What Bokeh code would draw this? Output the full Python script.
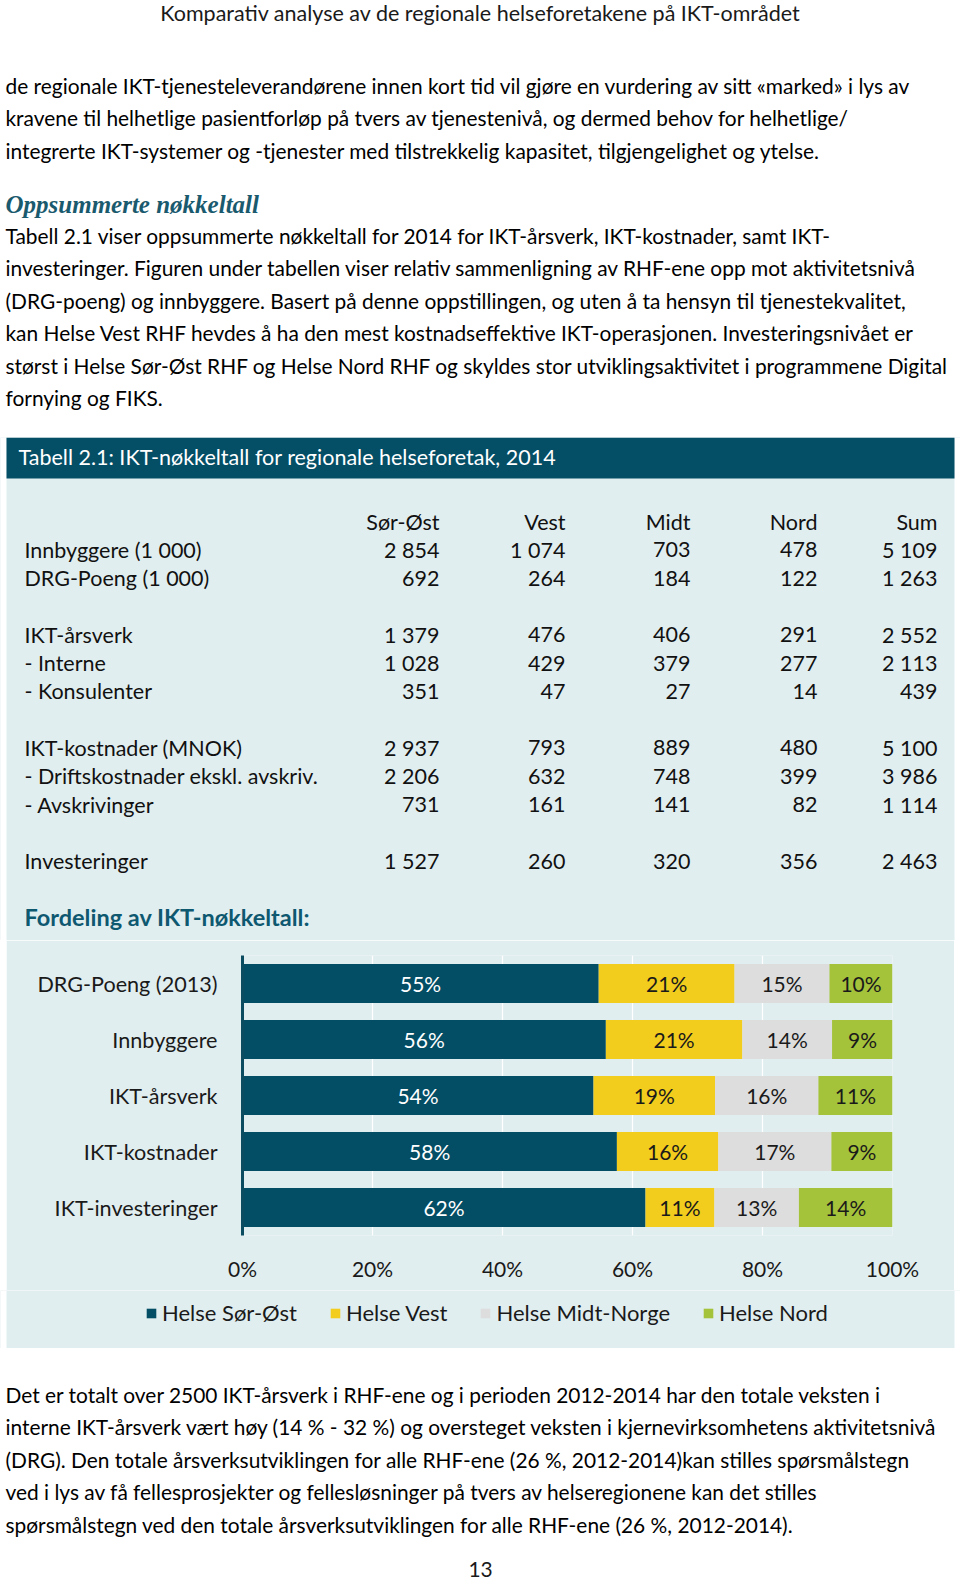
import numpy as np
from bokeh.plotting import figure
from bokeh.layouts import column, row
from bokeh.models import (Range1d, ColumnDataSource, FixedTicker, PrintfTickFormatter,
                          Legend, LegendItem, FactorRange, Spacer)
from bokeh.core.properties import value
from bokeh.embed import file_html
from bokeh.resources import INLINE

# ---------------- data ----------------
header_text = "Komparativ analyse av de regionale helseforetakene på IKT-området"
intro_lines = [
    "de regionale IKT-tjenesteleverandørene innen kort tid vil gjøre en vurdering av sitt «marked» i lys av",
    "kravene til helhetlige pasientforløp på tvers av tjenestenivå, og dermed behov for helhetlige/",
    "integrerte IKT-systemer og -tjenester med tilstrekkelig kapasitet, tilgjengelighet og ytelse.",
]
heading_text = "Oppsummerte nøkkeltall"
para_lines = [
    "Tabell 2.1 viser oppsummerte nøkkeltall for 2014 for IKT-årsverk, IKT-kostnader, samt IKT-",
    "investeringer. Figuren under tabellen viser relativ sammenligning av RHF-ene opp mot aktivitetsnivå",
    "(DRG-poeng) og innbyggere. Basert på denne oppstillingen, og uten å ta hensyn til tjenestekvalitet,",
    "kan Helse Vest RHF hevdes å ha den mest kostnadseffektive IKT-operasjonen. Investeringsnivået er",
    "størst i Helse Sør-Øst RHF og Helse Nord RHF og skyldes stor utviklingsaktivitet i programmene Digital",
    "fornying og FIKS.",
]
table_title = "Tabell 2.1: IKT-nøkkeltall for regionale helseforetak, 2014"
col_names = ["Sør-Øst", "Vest", "Midt", "Nord", "Sum"]
row_labels = ["Innbyggere (1 000)", "DRG-Poeng (1 000)", None,
              "IKT-årsverk", " - Interne", " - Konsulenter", None,
              "IKT-kostnader (MNOK)", " - Driftskostnader ekskl. avskriv.", " - Avskrivinger", None,
              "Investeringer"]
innbyggere = [2854, 1074, 703, 478, 5109]
drg_poeng = [692, 264, 184, 122, 1263]
ikt_arsverk = [1379, 476, 406, 291, 2552]
interne = [1028, 429, 379, 277, 2113]
konsulenter = [351, 47, 27, 14, 439]
ikt_kostnader = [2937, 793, 889, 480, 5100]
driftskostnader = [2206, 632, 748, 399, 3986]
avskrivinger = [731, 161, 141, 82, 1114]
investeringer = [1527, 260, 320, 356, 2463]
table_rows = [innbyggere, drg_poeng, None, ikt_arsverk, interne, konsulenter, None,
              ikt_kostnader, driftskostnader, avskrivinger, None, investeringer]

chart_title = "Fordeling av IKT-nøkkeltall:"
categories = ["DRG-Poeng (2013)", "Innbyggere", "IKT-årsverk", "IKT-kostnader", "IKT-investeringer"]
regions = ["Helse Sør-Øst", "Helse Vest", "Helse Midt-Norge", "Helse Nord"]
share_sor_ost = [54.8, 55.9, 54.0, 57.6, 62.0]
share_vest = [20.9, 21.0, 18.7, 15.6, 10.6]
share_midt = [14.6, 13.8, 15.9, 17.4, 13.0]
share_nord = [9.7, 9.4, 11.4, 9.4, 14.4]
x_ticks = [0, 20, 40, 60, 80, 100]

bottom_lines = [
    "Det er totalt over 2500 IKT-årsverk i RHF-ene og i perioden 2012-2014 har den totale veksten i",
    "interne IKT-årsverk vært høy (14 % - 32 %) og oversteget veksten i kjernevirksomhetens aktivitetsnivå",
    "(DRG). Den totale årsverksutviklingen for alle RHF-ene (26 %, 2012-2014)kan stilles spørsmålstegn",
    "ved i lys av få fellesprosjekter og fellesløsninger på tvers av helseregionene kan det stilles",
    "spørsmålstegn ved den totale årsverksutviklingen for alle RHF-ene (26 %, 2012-2014).",
]
page_number = "13"

# ---------------- style ----------------
FONT = "Lato"
SERIF = "Liberation Serif"
W = 960
PX0, PX1 = 6, 954          # panel left/right on the page
DARK = "#044e66"
PANEL = "#e1eef0"
BAR_COLORS = ["#034d65", "#f2cd1d", "#dddddd", "#a5c23b"]
TEAL_TXT = "#1a5a6e"
BODY = 20.9
LINE_H = 32.4
CH = 21  # chart text size
TX = 5   # left text margin


def page_fig(y0, y1, bg="white"):
    p = figure(width=W, height=y1 - y0, x_range=Range1d(0, W), y_range=Range1d(y1, y0),
               output_backend="svg", toolbar_location=None, x_axis_type=None, y_axis_type=None,
               min_border=0, background_fill_color=bg, border_fill_color=bg,
               outline_line_color=None, frame_align=False)
    p.grid.visible = False
    return p


def side_margins(p, y0, y1):
    # white page margins left and right of the tinted panel
    p.quad(left=[0, PX1], right=[PX0, W], top=[y0, y0], bottom=[y1, y1],
           color="white", line_color=None)


def add_text(p, xs, ys, texts, size, color="#000000", font=FONT, style="normal", align="left"):
    src = ColumnDataSource(dict(x=xs, y=ys, t=texts))
    p.text(x="x", y="y", text="t", source=src, text_font=value(font), text_font_size=f"{size}px",
           text_color=color, text_font_style=style, text_align=align, text_baseline="middle")


# ---------------- top text block ----------------
p_top = page_fig(0, 437)
add_text(p_top, [480], [12], [header_text], 21.5, "#1a1a1a", align="center")
add_text(p_top, [TX] * 3, [85 + LINE_H * i for i in range(3)], intro_lines, BODY)
add_text(p_top, [TX], [204], [heading_text], 25, TEAL_TXT, font=SERIF, style="bold italic")
add_text(p_top, [TX] * 6, [235 + LINE_H * i for i in range(6)], para_lines, BODY)

# ---------------- table ----------------
p_tab = page_fig(437, 940, bg=PANEL)
side_margins(p_tab, 437, 940)
p_tab.quad(left=[PX0], right=[PX1], top=[437], bottom=[478], color=DARK, line_color=None)
add_text(p_tab, [18], [456], [table_title], 21.5, "white")
col_right = [439, 565, 690, 817, 937]
ROW0, ROW_H = 521, 28.3
add_text(p_tab, col_right, [ROW0] * 5, col_names, 21.5, "#111111", align="right")
lx, ly, lt, nx, ny, nt = [], [], [], [], [], []
for i, (lab, vals) in enumerate(zip(row_labels, table_rows)):
    if lab is None:
        continue
    y = ROW0 + ROW_H * (i + 1)
    lx.append(24); ly.append(y); lt.append(lab)
    for xr, v in zip(col_right, vals):
        nx.append(xr); ny.append(y); nt.append(f"{v:,}".replace(",", " "))
add_text(p_tab, lx, ly, lt, 21.5, "#111111")
add_text(p_tab, nx, ny, nt, 21.5, "#111111", align="right")
add_text(p_tab, [24], [916], [chart_title], 23.5, "#0e5870", style="bold")

# ---------------- chart ----------------
p = figure(width=PX1 - PX0, height=350, y_range=FactorRange(factors=list(reversed(categories))),
           x_range=Range1d(0, 100), output_backend="svg", toolbar_location=None,
           background_fill_color=PANEL, border_fill_color=PANEL, outline_line_color=None,
           min_border_left=242 - PX0, min_border_right=PX1 - 892, min_border_top=15,
           min_border_bottom=55, frame_align=False)
src = ColumnDataSource(dict(cat=categories, so=share_sor_ost, ve=share_vest,
                            mi=share_midt, no=share_nord))
rs = p.hbar_stack(["so", "ve", "mi", "no"], y="cat", height=0.7, color=BAR_COLORS,
                  line_color=None, source=src)

series = [share_sor_ost, share_vest, share_midt, share_nord]
stack = np.array(series)
lefts = np.vstack([np.zeros(len(categories)), np.cumsum(stack, axis=0)[:-1]])
lab_x, lab_y, lab_t, lab_c = [], [], [], []
for k in range(len(series)):
    for j, cat in enumerate(categories):
        lab_x.append(lefts[k, j] + stack[k, j] / 2)
        lab_y.append(cat)
        lab_t.append(f"{int(stack[k, j] + 0.5)}%")
        lab_c.append("white" if k == 0 else "#1a1a1a")
p.text(x="x", y="y", text="t", text_color="c",
       source=ColumnDataSource(dict(x=lab_x, y=lab_y, t=lab_t, c=lab_c)),
       text_font=value(FONT), text_font_size=f"{CH}px", text_align="center", text_baseline="middle")

p.xaxis.ticker = FixedTicker(ticks=x_ticks)
p.xaxis.formatter = PrintfTickFormatter(format="%d%%")
p.xaxis.axis_line_color = None
p.xaxis.major_tick_line_color = None
p.xaxis.minor_tick_line_color = None
p.xaxis.major_label_standoff = 14
p.xaxis.major_label_text_font = FONT
p.xaxis.major_label_text_font_size = f"{CH}px"
p.xaxis.major_label_text_color = "#1a1a1a"

p.yaxis.axis_line_color = "#0c4c60"
p.yaxis.axis_line_width = 3
p.yaxis.major_tick_line_color = None
p.yaxis.minor_tick_line_color = None
p.yaxis.major_label_standoff = 19
p.yaxis.major_label_text_font = FONT
p.yaxis.major_label_text_font_size = "21.6px"
p.yaxis.major_label_text_color = "#1a1a1a"

p.xgrid.grid_line_color = "white"
p.xgrid.grid_line_width = 1.2
p.ygrid.grid_line_color = None

chart_row = row(Spacer(width=PX0, height=350), p, spacing=0)

# ---------------- legend strip ----------------
p_leg = page_fig(1290, 1348, bg=PANEL)
side_margins(p_leg, 1290, 1348)
# legend key swatches (drawn off-canvas; only their legend entries are visible)
proxies = [p_leg.quad(left=[-30], right=[-20], top=[1300], bottom=[1310], fill_color=c,
                      line_color=None) for c in BAR_COLORS]
legend = Legend(items=[LegendItem(label=n, renderers=[r]) for n, r in zip(regions, proxies)],
                orientation="horizontal", location=(145, 22),
                label_text_font=FONT, label_text_font_size="22px", label_text_color="#1a1a1a",
                glyph_width=12, glyph_height=12, label_standoff=5, spacing=32,
                padding=0, margin=0, border_line_color=None, background_fill_alpha=0)
p_leg.add_layout(legend)

# ---------------- bottom text ----------------
p_bot = page_fig(1348, 1582)
add_text(p_bot, [TX] * 5, [1394 + LINE_H * i for i in range(5)], bottom_lines, BODY)
add_text(p_bot, [480], [1569], [page_number], BODY, "#1a1a1a", align="center")

layout = column(p_top, p_tab, chart_row, p_leg, p_bot, spacing=0)
open("out.html", "w").write(file_html(layout, INLINE))
